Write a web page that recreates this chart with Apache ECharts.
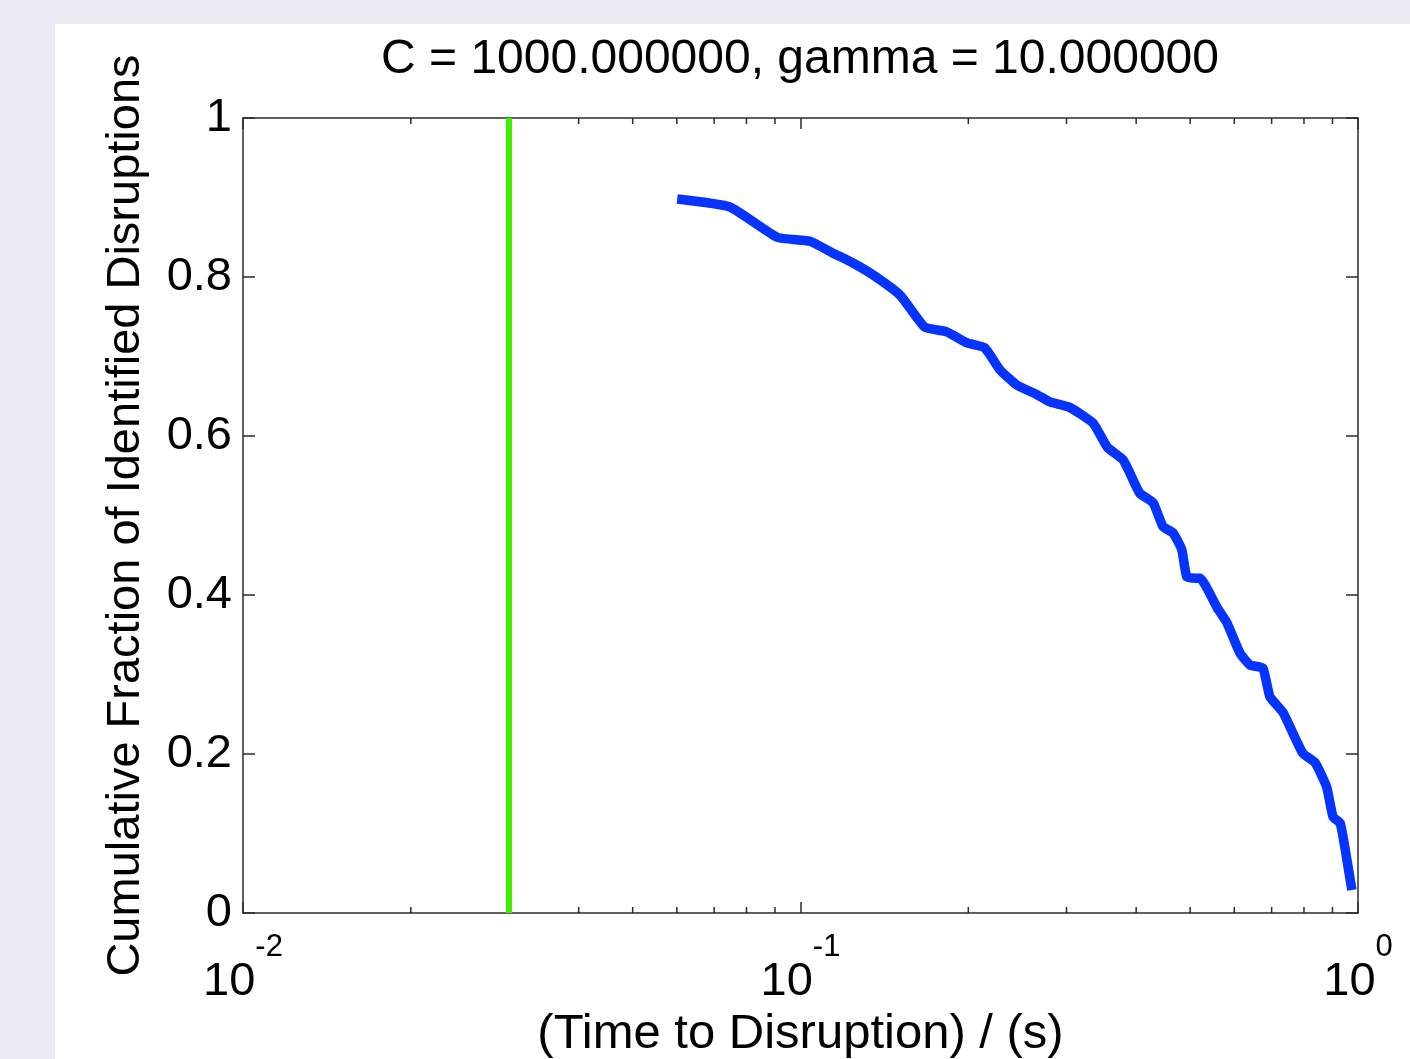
<!DOCTYPE html>
<html>
<head>
<meta charset="utf-8">
<script src="https://cdn.jsdelivr.net/npm/echarts@6/dist/echarts.min.js"></script>
<style>
  html, body { margin: 0; padding: 0; width: 1410px; height: 1059px; background: #ebecf3; overflow: hidden; }
  #chart { position: absolute; left: 55px; top: 24px; width: 1355px; height: 1035px; background: #ffffff; }
</style>
</head>
<body>
<div id="chart"></div>
<script>
// Time to disruption (s) and cumulative fraction of identified disruptions
const times = [0.0601, 0.0747, 0.0908, 0.104, 0.1144, 0.1242, 0.135, 0.151, 0.167, 0.183, 0.199, 0.214,
  0.228, 0.2445, 0.2656, 0.280, 0.304, 0.335, 0.355, 0.379, 0.390, 0.406, 0.429, 0.447, 0.466, 0.483,
  0.493, 0.514, 0.521, 0.558, 0.582, 0.614, 0.640, 0.675, 0.695, 0.734, 0.796, 0.838, 0.879, 0.902,
  0.929, 0.949, 0.975];
const fractions = [0.898, 0.888, 0.850, 0.845, 0.830, 0.8176, 0.8025, 0.777, 0.737, 0.731, 0.717, 0.711,
  0.683, 0.664, 0.652, 0.643, 0.636, 0.616, 0.586, 0.570, 0.553, 0.528, 0.516, 0.486, 0.478, 0.457,
  0.423, 0.421, 0.421, 0.385, 0.365, 0.327, 0.312, 0.308, 0.272, 0.252, 0.201, 0.189, 0.158, 0.121,
  0.113, 0.079, 0.029];

// Vertical threshold marker
const thresholdTime = [0.03];

// Axes
const xRange = [0.01, 1];
const yRange = [0, 1];
const yTicks = ["0", "0.2", "0.4", "0.6", "0.8", "1"];
const minorTickValues = [0.02, 0.03, 0.04, 0.05, 0.06, 0.07, 0.08, 0.09, 0.2, 0.3, 0.4, 0.5, 0.6, 0.7, 0.8, 0.9];

const titleText = "C = 1000.000000, gamma = 10.000000";
const xName = "(Time to Disruption) / (s)";
const yName = "Cumulative Fraction of Identified Disruptions";

const font = "Liberation Sans, Arial, Helvetica, sans-serif";
const axisColor = "#2b2b2b";

const chart = echarts.init(document.getElementById("chart"), null, { renderer: "canvas" });

// 10^n drawn as two lines: exponent above-right, "10" below-left.
// Invisible twins keep both lines the same width so the whole label centres on the tick.
function logLabel(value) {
  const exp = String(Math.round(Math.log10(value)));
  return "{pb|10}{s|" + exp + "}\n{b|10}{ps|" + exp + "}";
}

const xAxisBase = {
  type: "log",
  logBase: 10,
  min: xRange[0],
  max: xRange[1],
  axisLine: { show: true, onZero: false, lineStyle: { color: axisColor, width: 1.5 } },
  axisTick: { show: true, inside: true, length: 11, lineStyle: { color: axisColor, width: 1.5 } },
  splitLine: { show: false },
  minorTick: { show: false },
};

const yAxisBase = {
  type: "value",
  min: yRange[0],
  max: yRange[1],
  interval: 0.2,
  axisLine: { show: true, onZero: false, lineStyle: { color: axisColor, width: 1.5 } },
  axisTick: { show: true, inside: true, length: 12, lineStyle: { color: axisColor, width: 1.5 } },
  splitLine: { show: false },
};

const option = {
  animation: false,
  grid: { left: 188, top: 94, right: 52, bottom: 146, containLabel: false, outerBoundsMode: "none" },
  graphic: [
    {
      type: "text",
      x: 745,
      y: 36,
      style: {
        text: titleText,
        font: "48px " + font,
        fill: "#000",
        textAlign: "center",
        textVerticalAlign: "middle",
      },
    },
  ],
  xAxis: [
    Object.assign({}, xAxisBase, {
      position: "bottom",
      name: xName,
      nameLocation: "middle",
      nameGap: 93,
      nameTextStyle: { fontFamily: font, fontSize: 49, color: "#000" },
      axisLabel: {
        show: true,
        margin: 22,
        showMinLabel: true,
        showMaxLabel: true,
        hideOverlap: false,
        formatter: logLabel,
        rich: {
          b: { fontFamily: font, fontSize: 47, lineHeight: 46, color: "#000" },
          pb: { fontFamily: font, fontSize: 47, lineHeight: 24, color: "rgba(0,0,0,0)" },
          s: { fontFamily: font, fontSize: 31, lineHeight: 24, color: "#000" },
          ps: { fontFamily: font, fontSize: 31, lineHeight: 46, color: "rgba(0,0,0,0)" },
        },
      },
    }),
    Object.assign({}, xAxisBase, {
      position: "top",
      axisLabel: { show: false },
    }),
  ],
  yAxis: [
    Object.assign({}, yAxisBase, {
      position: "left",
      name: yName,
      nameLocation: "middle",
      nameRotate: 90,
      nameGap: 93,
      nameTextStyle: { fontFamily: font, fontSize: 47, color: "#000" },
      axisLabel: {
        show: true,
        margin: 11,
        fontFamily: font,
        fontSize: 47,
        color: "#000",
        formatter: (v) => yTicks[Math.round(v / 0.2)],
      },
    }),
    Object.assign({}, yAxisBase, {
      position: "right",
      axisLabel: { show: false },
    }),
  ],
  series: [
    {
      name: "minor ticks",
      type: "custom",
      xAxisIndex: 0,
      yAxisIndex: 0,
      silent: true,
      data: minorTickValues.map((v) => [v]),
      renderItem: (params, api) => {
        const bottom = api.coord([api.value(0), yRange[0]]);
        const top = api.coord([api.value(0), yRange[1]]);
        const style = { stroke: axisColor, lineWidth: 1.5 };
        return {
          type: "group",
          children: [
            { type: "line", shape: { x1: bottom[0], y1: bottom[1], x2: bottom[0], y2: bottom[1] - 6 }, style: style },
            { type: "line", shape: { x1: top[0], y1: top[1], x2: top[0], y2: top[1] + 6 }, style: style },
          ],
        };
      },
    },
    {
      name: "threshold",
      type: "line",
      xAxisIndex: 0,
      yAxisIndex: 0,
      data: [[thresholdTime[0], yRange[0]], [thresholdTime[0], yRange[1]]],
      symbol: "none",
      lineStyle: { color: "#3ef000", width: 6 },
    },
    {
      name: "cumulative fraction",
      type: "line",
      xAxisIndex: 0,
      yAxisIndex: 0,
      data: times.map((t, i) => [t, fractions[i]]),
      symbol: "none",
      smooth: 0.15,
      lineStyle: { color: "#0533ff", width: 9.5, join: "round" },
    },
  ],
};

chart.setOption(option);
</script>
</body>
</html>
